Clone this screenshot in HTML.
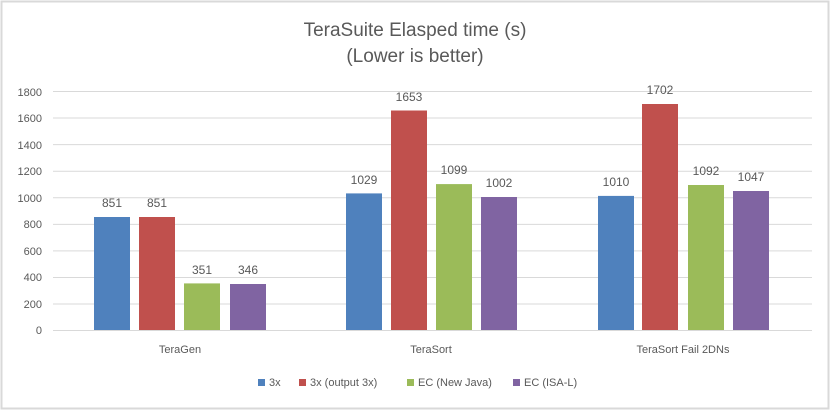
<!DOCTYPE html>
<html><head><style>
body{margin:0;background:#fff}
svg text{font-family:"Liberation Sans",sans-serif;fill:#595959}
</style></head><body>
<svg width="830" height="411" xmlns="http://www.w3.org/2000/svg">
<rect x="1.5" y="1.5" width="827" height="407" fill="#fff" stroke="#d9d9d9" stroke-width="2"/>
<text x="415" y="36" font-size="19" text-anchor="middle">TeraSuite Elasped time (s)</text>
<text x="415" y="62" font-size="19" text-anchor="middle">(Lower is better)</text>
<g stroke="#d9d9d9" stroke-width="1">
<line x1="53" x2="812" y1="91.5" y2="91.5"/><line x1="53" x2="812" y1="118" y2="118"/>
<line x1="53" x2="812" y1="144.6" y2="144.6"/><line x1="53" x2="812" y1="171.2" y2="171.2"/>
<line x1="53" x2="812" y1="197.8" y2="197.8"/><line x1="53" x2="812" y1="224.4" y2="224.4"/>
<line x1="53" x2="812" y1="250.9" y2="250.9"/><line x1="53" x2="812" y1="277.5" y2="277.5"/>
<line x1="53" x2="812" y1="304" y2="304"/><line x1="53" x2="812" y1="330.5" y2="330.5"/>
</g>
<g font-size="11" text-anchor="end">
<text x="42" y="96">1800</text><text x="42" y="122">1600</text><text x="42" y="149">1400</text>
<text x="42" y="175">1200</text><text x="42" y="202">1000</text><text x="42" y="228">800</text>
<text x="42" y="255">600</text><text x="42" y="281">400</text><text x="42" y="308">200</text>
<text x="42" y="334">0</text>
</g>
<g>
<rect x="94" y="217" width="36" height="113" fill="#4f81bd"/>
<rect x="139" y="217" width="36" height="113" fill="#c0504d"/>
<rect x="184" y="283.4" width="36" height="46.6" fill="#9bbb59"/>
<rect x="230" y="284" width="36" height="46" fill="#8064a2"/>
<rect x="346" y="193.4" width="36" height="136.6" fill="#4f81bd"/>
<rect x="391" y="110.5" width="36" height="219.5" fill="#c0504d"/>
<rect x="436" y="184.1" width="36" height="145.9" fill="#9bbb59"/>
<rect x="481" y="197" width="36" height="133" fill="#8064a2"/>
<rect x="598" y="195.9" width="36" height="134.1" fill="#4f81bd"/>
<rect x="642" y="104" width="36" height="226" fill="#c0504d"/>
<rect x="688" y="185" width="36" height="145" fill="#9bbb59"/>
<rect x="733" y="191" width="36" height="139" fill="#8064a2"/>
</g>
<g font-size="12" text-anchor="middle" fill="#404040">
<text x="112" y="207">851</text><text x="157" y="207">851</text><text x="202" y="274">351</text><text x="248" y="274">346</text>
<text x="364" y="184">1029</text><text x="409" y="101">1653</text><text x="454" y="174">1099</text><text x="499" y="187">1002</text>
<text x="616" y="186">1010</text><text x="660" y="94">1702</text><text x="706" y="175">1092</text><text x="751" y="181">1047</text>
</g>
<g font-size="11" text-anchor="middle">
<text x="180" y="353">TeraGen</text><text x="431" y="353">TeraSort</text><text x="683" y="353">TeraSort Fail 2DNs</text>
</g>
<g font-size="11">
<rect x="258" y="379" width="7" height="7" fill="#4f81bd"/><text x="269" y="386">3x</text>
<rect x="299" y="379" width="7" height="7" fill="#c0504d"/><text x="310" y="386">3x (output 3x)</text>
<rect x="407" y="379" width="7" height="7" fill="#9bbb59"/><text x="418" y="386">EC (New Java)</text>
<rect x="513" y="379" width="7" height="7" fill="#8064a2"/><text x="524" y="386">EC (ISA-L)</text>
</g>
</svg>
</body></html>
